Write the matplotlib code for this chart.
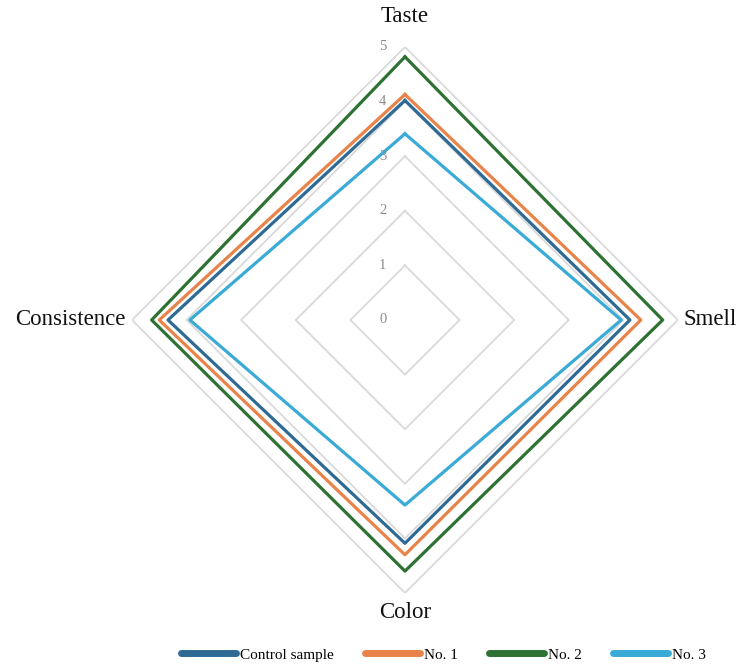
import numpy as np
import matplotlib
matplotlib.use("Agg")
import matplotlib.pyplot as plt

categories = ["Taste", "Smell", "Color", "Consistence"]
control = [4.02, 4.12, 4.09, 4.34]
no1 = [4.13, 4.32, 4.30, 4.50]
no2 = [4.82, 4.72, 4.60, 4.64]
no3 = [3.41, 3.96, 3.39, 3.94]
series_names = ["Control sample", "No. 1", "No. 2", "No. 3"]
series_colors = ["#2F6A94", "#E8834A", "#2E7233", "#3AAAD6"]
levels = [0, 1, 2, 3, 4, 5]

plt.rcParams["font.family"] = ["Liberation Serif", "DejaVu Serif"]

fig = plt.figure(figsize=(7.39, 6.72), dpi=100)
ax = fig.add_axes([0.1786, 0.1176, 0.7388, 0.8125], projection="polar")
ax.set_theta_zero_location("N")
ax.set_theta_direction(-1)

theta = np.linspace(0, 2 * np.pi, len(categories), endpoint=False)
closed = np.append(theta, theta[0])

# polygon grid instead of circles
ax.grid(False)
ax.spines["polar"].set_visible(False)
ax.set_xticks([])
ax.set_yticks([])
for lv in levels[1:]:
    ax.plot(closed, [lv] * len(closed), color="#D9D9D9", lw=1.3, zorder=1)

for name, vals, col in zip(series_names, [control, no1, no2, no3], series_colors):
    v = np.append(vals, vals[0])
    ax.plot(closed, v, color=col, lw=2.3, label=name, zorder=3)

ax.set_ylim(0, 5)

for lv in levels:
    ax.annotate(str(lv), xy=(0, lv), xytext=(-16, 0), textcoords="offset points",
                ha="center", va="center", fontsize=10.5, color="#8C8C8C")

label_pos = [
    (0, 5, 0, 22, "center", "center"),
    (theta[1], 5, 4, 0, "left", "center"),
    (theta[2], 5, 0, -14, "center", "center"),
    (theta[3], 5, -5, 0, "right", "center"),
]
for cat, (t, r, dx, dy, ha, va) in zip(categories, label_pos):
    ax.annotate(cat, xy=(t, r), xytext=(dx, dy), textcoords="offset points",
                ha=ha, va=va, fontsize=16.5, color="#111111", annotation_clip=False)

leg = fig.legend(loc="lower center", bbox_to_anchor=(0.6, -0.005), ncol=4,
                 frameon=False, fontsize=11, handlelength=3.6, handletextpad=0.3,
                 columnspacing=2.0)
for h in leg.get_lines():
    h.set_linewidth(5)
    h.set_solid_capstyle("round")

fig.savefig("out.png", dpi=100)
